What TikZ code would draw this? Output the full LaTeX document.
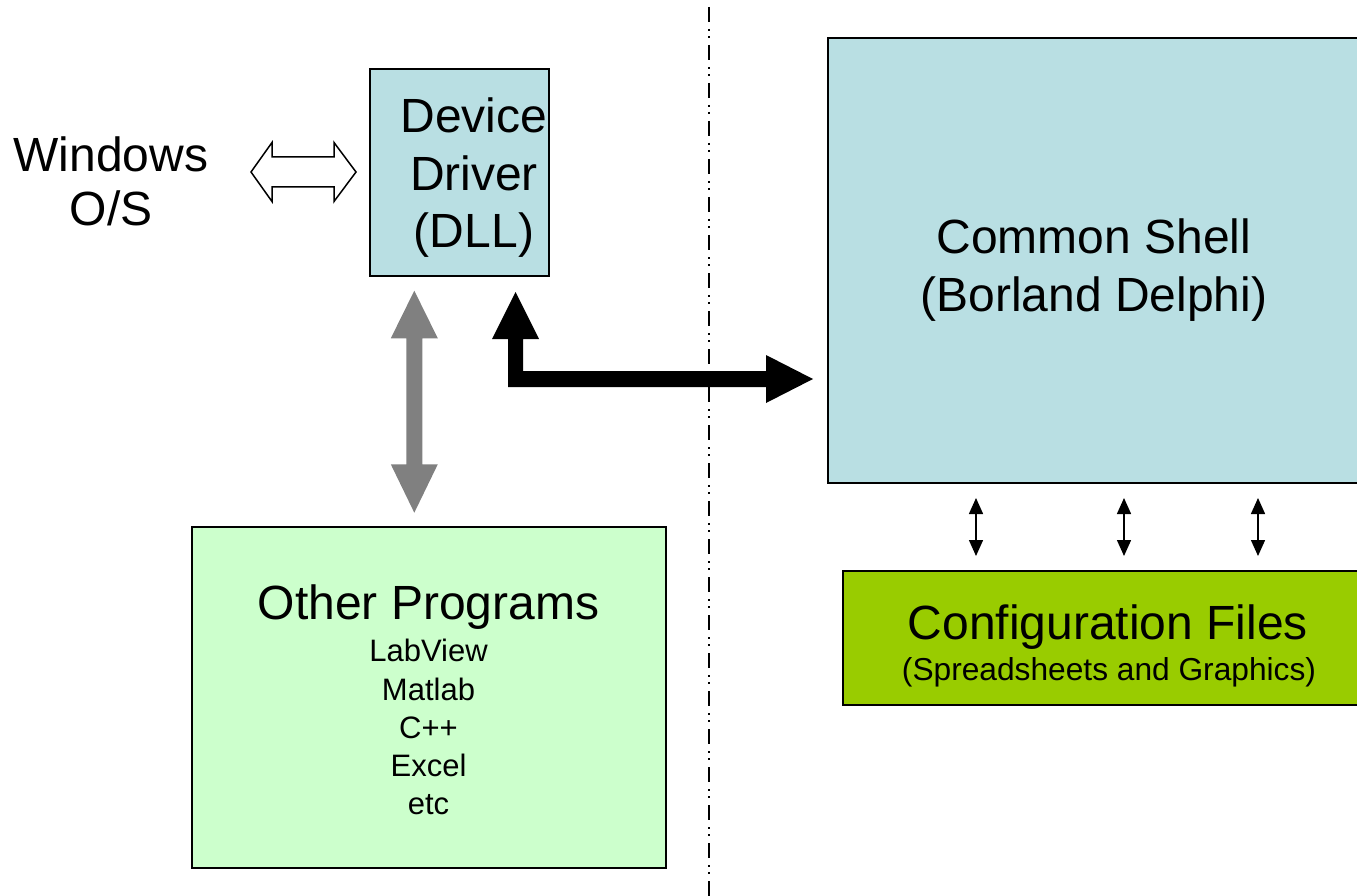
\documentclass[tikz,border=0pt]{standalone}
\usepackage{fontspec}
\setmainfont{Liberation Sans}
\usetikzlibrary{arrows.meta,calc}
\definecolor{shellblue}{RGB}{185,223,227}
\definecolor{progreen}{RGB}{204,255,204}
\definecolor{cfggreen}{RGB}{153,204,0}
\definecolor{arrgray}{RGB}{128,128,128}
\begin{document}
\begin{tikzpicture}[x=1pt,y=-1pt,
  box/.style={draw=black, line width=1.5pt, anchor=north west, inner sep=0pt, outer sep=0pt},
  big/.style={font=\fontsize{48}{57.5}\selectfont, inner sep=0pt, align=center},
  small/.style={font=\fontsize{31}{38.3}\selectfont, inner sep=0pt, align=center},
  thinarrow/.style={line width=1.5pt, {Triangle[length=16pt,width=14pt]}-{Triangle[length=16pt,width=14pt]}},
  sepline/.style={line width=1.5pt, dash pattern=on 15pt off 7pt on 2pt off 5pt on 2pt off 7pt, dash phase=31pt}]
\useasboundingbox (0,0) rectangle (1357,896);
\clip (0,0) rectangle (1357,896);

% separator
\coordinate (septop) at (709,0);
\coordinate (sepbot) at (709,896);
\draw[sepline] (septop) -- (sepbot);

% boxes
\node[box, fill=shellblue, minimum width=179pt, minimum height=207pt] (dd) at (370,69) {};
\node[box, fill=shellblue, minimum width=560pt, minimum height=445pt] (cs) at (828,38) {};
\node[box, fill=progreen, minimum width=474pt, minimum height=341pt] (op) at (192,527) {};
\node[box, fill=cfggreen, minimum width=540pt, minimum height=134pt] (cf) at (843,571) {};

% texts
\node[big, font=\fontsize{48}{54}\selectfont] (wintxt) at (111,181) {Windows\\O/S};
\node[big] (ddtxt) at (474,178) {Device\\Driver\\(DLL)};
\node[big] (cstxt) at (1094,270) {Common Shell\\(Borland Delphi)};
\node[big, anchor=base] (optitle) at (428.5,619) {Other Programs};
\node[small] (oplist) at (428.5,727.3) {LabView\\Matlab\\C++\\Excel\\etc};
\node[big, anchor=base] (cftitle) at (1108,639) {Configuration Files};
\node[small, font=\fontsize{31.7}{36}\selectfont, anchor=base] (cfsub) at (1109,680) {(Spreadsheets and Graphics)};

% hollow double arrow Windows <-> DLL
\draw[line width=1.5pt, fill=white, line join=miter]
  (251,172) -- (272,142.5) -- (272,157) -- (334,157) -- (334,142.5) -- (356,172)
  -- (334,201.5) -- (334,187) -- (272,187) -- (272,201.5) -- cycle;

% gray double arrow DLL <-> Other Programs
\fill[arrgray] (414.3,290.7) -- (437.8,338.3) -- (422.3,338.3) -- (422.3,464.3) -- (437.8,464.3)
  -- (414.3,512.7) -- (390.8,464.3) -- (406.3,464.3) -- (406.3,338.3) -- (390.8,338.3) -- cycle;

% black elbow arrow DLL <-> Common Shell
\fill[black] (508,387) -- (508,339) -- (492,339) -- (515.5,292) -- (539,339) -- (523,339)
  -- (523,371) -- (766,371) -- (766,355) -- (813,379) -- (766,403) -- (766,387) -- cycle;

% small arrows Common Shell <-> Configuration Files
\draw[thinarrow] (976,498) -- (976,556);
\draw[thinarrow] (1124,498) -- (1124,556);
\draw[thinarrow] (1258,498) -- (1258,556);
\end{tikzpicture}
\end{document}
